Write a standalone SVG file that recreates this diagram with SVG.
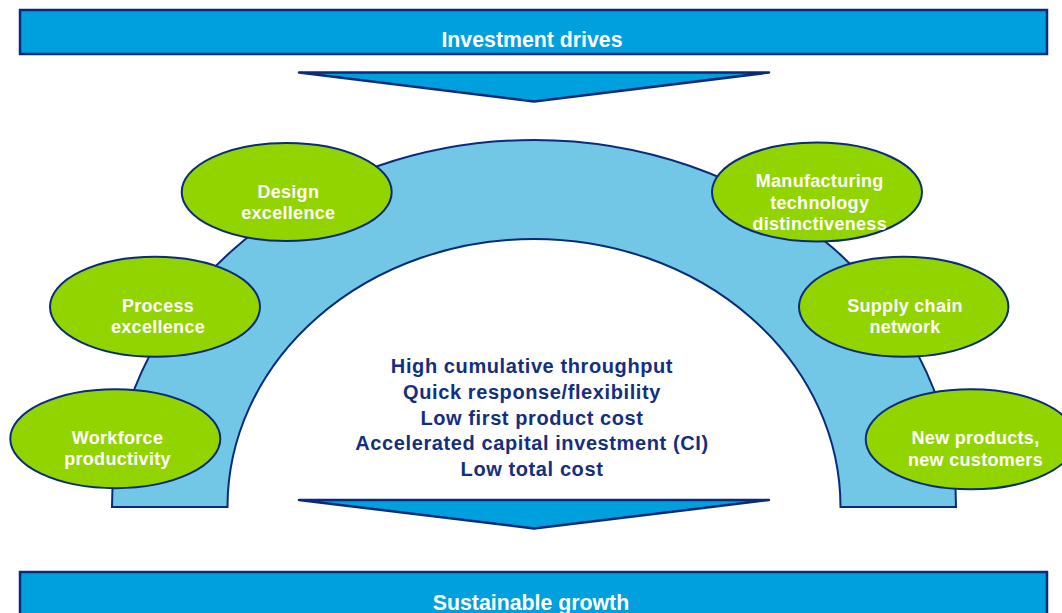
<svg xmlns="http://www.w3.org/2000/svg" width="1062" height="613" viewBox="0 0 1062 613">
<style>
.bar{fill:#00A0DF;stroke:#0A2B7A;stroke-width:2.5}
.arr{fill:#00A0DF;stroke:#0A2B7A;stroke-width:2.5;stroke-linejoin:round}
.arch{fill:#72C6E6;stroke:#0A2B7A;stroke-width:2}
.ell{fill:#92D400;stroke:#0A2B7A;stroke-width:2}
.bt{font-family:"Liberation Sans",Arial,sans-serif;font-weight:bold;font-size:21.3px;fill:#FFFFFF;text-anchor:middle}
.et{font-family:"Liberation Sans",Arial,sans-serif;font-weight:bold;font-size:18px;letter-spacing:0.3px;fill:#FFFFFF;text-anchor:middle}
.ct{font-family:"Liberation Sans",Arial,sans-serif;font-weight:bold;font-size:20px;letter-spacing:0.6px;fill:#142F7E;text-anchor:middle}
</style>
<rect width="1062" height="613" fill="#FFFFFF"/>
<g id="investment-drives">
<rect class="bar" x="20" y="10" width="1027" height="44"/>
<text class="bt" x="532" y="47.3">Investment drives</text>
</g>
<g id="arrow-top">
<polygon class="arr" points="299,72.5 769,72.5 534,101.5"/>
</g>
<g id="arch">
<path class="arch" d="M112,507 A422,367 0 0 1 956,507 L840.5,507 A306.5,268 0 0 0 227.5,507 Z"/>
</g>
<g id="center-text">
<text class="ct" x="532" y="373.3">High cumulative throughput</text>
<text class="ct" x="532" y="399">Quick response/flexibility</text>
<text class="ct" x="532" y="424.6">Low first product cost</text>
<text class="ct" x="532" y="450.3">Accelerated capital investment (CI)</text>
<text class="ct" x="532" y="476">Low total cost</text>
</g>
<g id="arrow-bottom">
<polygon class="arr" points="299,500 769,500 534,528.5"/>
</g>
<g id="sustainable-growth">
<rect class="bar" x="20" y="572" width="1027" height="50"/>
<text class="bt" x="531" y="610">Sustainable growth</text>
</g>
<g id="design">
<ellipse class="ell" cx="286.7" cy="192" rx="105" ry="49"/>
<text class="et" x="288.3" y="198.3">Design</text>
<text class="et" x="288.3" y="219.3">excellence</text>
</g>
<g id="process">
<ellipse class="ell" cx="155" cy="306.7" rx="105" ry="50"/>
<text class="et" x="158" y="311.7">Process</text>
<text class="et" x="158" y="332.7">excellence</text>
</g>
<g id="workforce">
<ellipse class="ell" cx="115.3" cy="438.7" rx="105" ry="49.5"/>
<text class="et" x="117.5" y="444">Workforce</text>
<text class="et" x="117.5" y="465">productivity</text>
</g>
<g id="manufacturing">
<ellipse class="ell" cx="817" cy="192" rx="105" ry="49.5"/>
<text class="et" x="819.7" y="187">Manufacturing</text>
<text class="et" x="819.7" y="208.5">technology</text>
<text class="et" x="819.7" y="230">distinctiveness</text>
</g>
<g id="supply-chain">
<ellipse class="ell" cx="903.7" cy="306.7" rx="104.7" ry="50"/>
<text class="et" x="905" y="311.7">Supply chain</text>
<text class="et" x="905" y="332.7">network</text>
</g>
<g id="new-products">
<ellipse class="ell" cx="970.7" cy="439.3" rx="105" ry="50"/>
<text class="et" x="975.5" y="444.3">New products,</text>
<text class="et" x="975.5" y="466">new customers</text>
</g>
</svg>
